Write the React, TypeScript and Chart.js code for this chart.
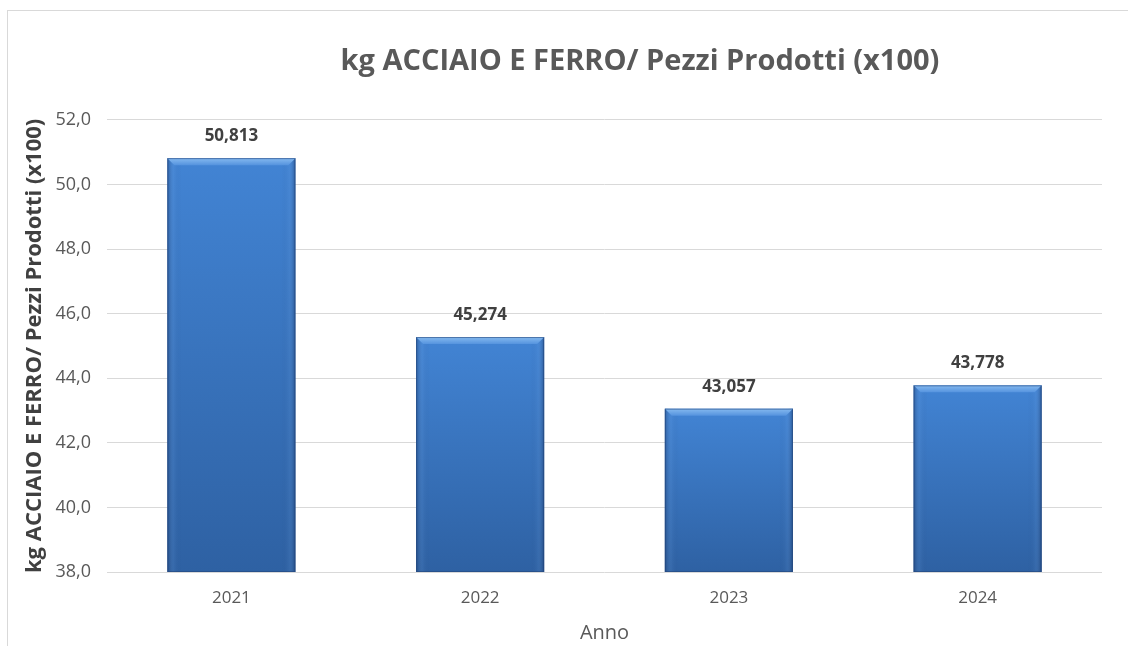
import React, { useEffect, useRef } from "react";
import { Chart, registerables } from "chart.js";

Chart.register(...registerables);

const categories = ["2021", "2022", "2023", "2024"];
const values = [50.813, 45.274, 43.057, 43.778];
const yMin = 38;
const yMax = 52;
const yStep = 2;
const chartTitle = "kg ACCIAIO E FERRO/ Pezzi Prodotti (x100)";
const yTitle = "kg ACCIAIO E FERRO/ Pezzi Prodotti (x100)";
const xTitle = "Anno";

const FONT = "'Open Sans', sans-serif";

const bevelPlugin = {
  id: "bevelAndLabels",
  afterDatasetsDraw(chart: any) {
    const c = chart.ctx;
    const meta = chart.getDatasetMeta(0);
    const area = chart.chartArea;
    meta.data.forEach((el: any, i: number) => {
      const p = el.getProps(["x", "y", "base", "width"], true);
      const { x, y, width } = p;
      const base = Math.min(p.base, area.bottom);
      if (![x, y, base, width].every(Number.isFinite)) return;
      const left = x - width / 2;
      const right = x + width / 2;
      const b = 7;
      c.save();
      let g = c.createLinearGradient(left, 0, left + 14, 0);
      g.addColorStop(0, "rgba(15,40,85,0.4)");
      g.addColorStop(0.45, "rgba(120,170,230,0.12)");
      g.addColorStop(1, "rgba(15,40,85,0)");
      c.fillStyle = g;
      c.fillRect(left, y, 14, base - y);
      g = c.createLinearGradient(right, 0, right - 14, 0);
      g.addColorStop(0, "rgba(15,40,85,0.45)");
      g.addColorStop(0.45, "rgba(120,170,230,0.1)");
      g.addColorStop(1, "rgba(15,40,85,0)");
      c.fillStyle = g;
      c.fillRect(right - 14, y, 14, base - y);
      g = c.createLinearGradient(0, y, 0, y + b);
      g.addColorStop(0, "#86baf0");
      g.addColorStop(1, "#5593de");
      c.fillStyle = g;
      c.beginPath();
      c.moveTo(left, y);
      c.lineTo(right, y);
      c.lineTo(right - b, y + b);
      c.lineTo(left + b, y + b);
      c.closePath();
      c.fill();
      c.strokeStyle = "rgba(35,70,125,0.6)";
      c.lineWidth = 1;
      c.strokeRect(left + 0.5, y + 0.5, width - 1, base - y - 1);
      c.fillStyle = "#404040";
      c.font = `bold 17px ${FONT}`;
      c.textAlign = "center";
      c.textBaseline = "middle";
      c.fillText(values[i].toFixed(3).replace(".", ","), x, y - 22);
      c.restore();
    });
  },
};

export default function App() {
  const ref = useRef<HTMLCanvasElement>(null);
  useEffect(() => {
    if (!ref.current) return;
    const chart = new Chart(ref.current, {
      type: "bar",
      data: {
        labels: categories,
        datasets: [
          {
            data: values,
            yAxisID: "y",
            barPercentage: 0.515,
            categoryPercentage: 1,
            backgroundColor: (ctx: any) => {
              const ch = ctx.chart;
              const ys = ch.scales?.y;
              if (!ys || ctx.type !== "data") return "#3a76c4";
              const top = ys.getPixelForValue(ctx.raw);
              const bottom = ys.bottom;
              if (!Number.isFinite(top) || !Number.isFinite(bottom) || top === bottom) return "#3a76c4";
              const g = ch.ctx.createLinearGradient(0, top, 0, bottom);
              g.addColorStop(0, "#4284d4");
              g.addColorStop(1, "#2e61a3");
              return g;
            },
            borderWidth: 0,
          },
        ],
      },
      options: {
        animation: false,
        responsive: false,
        maintainAspectRatio: false,
        layout: { padding: { left: 14, right: 14, top: 0, bottom: 1 } },
        plugins: {
          legend: { display: false },
          tooltip: { enabled: false },
          title: {
            display: true,
            text: chartTitle,
            color: "#595959",
            font: { family: FONT, size: 29, weight: "bold" },
            padding: { top: 33, bottom: 41 },
          },
        },
        scales: {
          x: {
            grid: { display: false, drawTicks: false },
            border: { display: false },
            ticks: { color: "#595959", font: { family: FONT, size: 17 }, padding: 16 },
            title: {
              display: true,
              text: xTitle,
              color: "#595959",
              font: { family: FONT, size: 20 },
              padding: { top: 0, bottom: 0 },
            },
            afterFit: (s: any) => {
              s.height = 73;
            },
          },
          y: {
            min: yMin,
            max: yMax,
            grid: { color: "#d9d9d9", drawTicks: false, lineWidth: 1 },
            border: { display: false },
            ticks: {
              stepSize: yStep,
              color: "#595959",
              font: { family: FONT, size: 18 },
              padding: 16,
              callback: (v: any) => Number(v).toFixed(1).replace(".", ","),
            },
            title: {
              display: true,
              text: yTitle,
              color: "#404040",
              font: { family: FONT, size: 22, weight: "bold" },
              padding: { top: 0, bottom: 0 },
            },
            afterFit: (s: any) => {
              s.width = 85;
            },
          },
          yR: {
            position: "right",
            display: true,
            grid: { display: false, drawTicks: false },
            border: { display: false },
            ticks: { display: false },
            afterFit: (s: any) => {
              s.width = 156;
            },
          },
        },
      },
      plugins: [bevelPlugin],
    });
    return () => chart.destroy();
  }, []);

  return (
    <div style={{ position: "fixed", left: 0, top: 0, width: 1128, height: 646, overflow: "hidden", background: "#fff" }}>
      <div
        style={{
          position: "absolute",
          left: 7,
          top: 10,
          width: 1400,
          height: 700,
          borderLeft: "1px solid #d9d9d9",
          borderTop: "1px solid #d9d9d9",
        }}
      />
      <canvas ref={ref} width={1264} height={635} style={{ position: "absolute", left: 8, top: 11, width: 1264, height: 635 }} />
    </div>
  );
}
